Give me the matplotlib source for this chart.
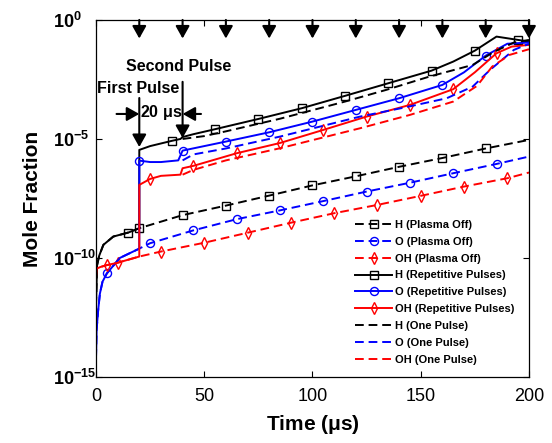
import numpy as np
import matplotlib
matplotlib.use('Agg')
import matplotlib.pyplot as plt

plt.rcParams['font.family'] = ['Liberation Sans', 'DejaVu Sans']
plt.rcParams['mathtext.fontset'] = 'custom'
plt.rcParams['mathtext.rm'] = 'Liberation Sans'
plt.rcParams['mathtext.it'] = 'Liberation Sans:italic'
plt.rcParams['mathtext.bf'] = 'Liberation Sans:bold'

# ---- data (time in microseconds, log10 of mole fraction) ----
h_off_t = [0, 0.5, 1.5, 3.4, 8, 15, 20, 40, 60, 80, 100, 120, 140, 160, 180, 200]
h_off_log = [-12.0, -10.3, -9.9, -9.45, -9.1, -8.93, -8.75, -8.2, -7.8, -7.38,
             -6.95, -6.57, -6.17, -5.8, -5.4, -5.04]
h_off_marks = [20, 40, 60, 80, 100, 120, 140, 160, 180]

o_off_t = [0, 0.3, 1, 1.8, 3, 5, 11, 19, 25, 45, 65, 85, 105, 125, 145, 165, 185, 200]
o_off_log = [-14.2, -13.0, -12.2, -11.5, -11.0, -10.65, -10.0, -9.65, -9.38, -8.84,
             -8.37, -8.0, -7.61, -7.21, -6.84, -6.44, -6.05, -5.74]
o_off_marks = [5, 25, 45, 65, 85, 105, 125, 145, 165, 185]

oh_off_t = [0, 0.3, 2, 5, 10, 20, 30, 50, 70, 90, 110, 130, 150, 170, 190, 200]
oh_off_log = [-10.8, -10.45, -10.38, -10.3, -10.2, -9.94, -9.73, -9.36, -8.94, -8.52,
              -8.12, -7.77, -7.39, -7.0, -6.65, -6.41]
oh_off_marks = [10, 30, 50, 70, 90, 110, 130, 150, 170, 190]

h_rep_t = [0, 0.5, 1.5, 3.4, 8, 15, 20, 20, 25, 35, 39, 40, 45, 55, 75, 95, 115,
           135, 155, 165, 175, 185, 195, 200]
h_rep_log = [-12.0, -10.3, -9.9, -9.45, -9.1, -8.93, -8.75, -5.46, -5.3, -5.08, -5.0,
             -4.92, -4.8, -4.59, -4.16, -3.71, -3.19, -2.66, -2.13, -1.75, -1.29,
             -0.70, -0.84, -0.91]
h_rep_marks = [15, 35, 55, 75, 95, 115, 135, 155, 175, 195]

o_rep_t = [0, 0.3, 1, 1.8, 3, 5, 11, 19, 20, 20, 25, 30, 38, 40, 60, 80, 100, 120,
           140, 160, 170, 180, 190, 200]
o_rep_log = [-14.2, -13.0, -12.2, -11.5, -11.0, -10.65, -10.0, -9.65, -9.62, -5.91,
             -5.97, -5.97, -5.9, -5.49, -5.11, -4.72, -4.27, -3.78, -3.29, -2.73,
             -2.2, -1.5, -1.0, -0.95]
o_rep_marks = [20, 40, 60, 80, 100, 120, 140, 160, 180]

oh_rep_t = [0, 0.3, 2, 5, 10, 20, 20, 25, 30, 39, 40, 45, 65, 85, 105, 125, 145, 165,
            175, 185, 192, 200]
oh_rep_log = [-10.8, -10.45, -10.38, -10.3, -10.2, -9.94, -6.93, -6.68, -6.55, -6.5,
              -6.23, -6.13, -5.6, -5.17, -4.62, -4.06, -3.57, -2.91, -2.2, -1.4,
              -1.12, -1.05]
oh_rep_marks = [5, 25, 45, 65, 85, 105, 125, 145, 165, 185]

h_one_t = [40, 50, 60, 85, 115, 134, 154, 174, 184, 193, 200]
h_one_log = [-5.0, -4.88, -4.68, -4.15, -3.43, -2.94, -2.38, -1.89, -1.33, -0.95, -0.84]

o_one_t = [40, 45, 60, 85, 122, 143, 162, 174, 182, 193, 200]
o_one_log = [-5.9, -5.65, -5.4, -4.9, -4.06, -3.67, -3.29, -2.8, -2.1, -1.26, -1.0]

oh_one_t = [40, 45, 60, 85, 122, 145, 165, 176, 183, 191, 200]
oh_one_log = [-6.5, -6.3, -5.9, -5.39, -4.55, -3.99, -3.43, -2.77, -1.96, -1.47, -1.23]

pulse_times = [20, 40, 60, 80, 100, 120, 140, 160, 180, 200]

y_ticks = [1e-15, 1e-10, 1e-5, 1]
y_tick_labels = [r'$\mathbf{10^{-15}}$', r'$\mathbf{10^{-10}}$',
                 r'$\mathbf{10^{-5}}$', r'$\mathbf{10^{0}}$']


def mark_idx(t, marks):
    """index of the last sample at each marker time"""
    t = np.asarray(t)
    return [int(np.searchsorted(t, m, side='right') - 1) for m in marks]


fig = plt.figure(figsize=(5.52, 4.43), dpi=100)
ax = fig.add_axes([0.1739, 0.149, 0.7844, 0.806])

dash = (0, (4.5, 2.5))
mk = dict(mfc='none', ms=5.8, mew=1.0)
lw = 1.4

ax.plot(h_off_t, 10 ** np.array(h_off_log), color='k', ls=dash, lw=lw, marker='s',
        markevery=mark_idx(h_off_t, h_off_marks), label='H (Plasma Off)', **mk)
ax.plot(o_off_t, 10 ** np.array(o_off_log), color='b', ls=dash, lw=lw, marker='o',
        markevery=mark_idx(o_off_t, o_off_marks), label='O (Plasma Off)', **mk)
ax.plot(oh_off_t, 10 ** np.array(oh_off_log), color='r', ls=dash, lw=lw, marker='d',
        markevery=mark_idx(oh_off_t, oh_off_marks), label='OH (Plasma Off)', **mk)
ax.plot(h_rep_t, 10 ** np.array(h_rep_log), color='k', ls='-', lw=lw, marker='s',
        markevery=mark_idx(h_rep_t, h_rep_marks), label='H (Repetitive Pulses)', **mk)
ax.plot(o_rep_t, 10 ** np.array(o_rep_log), color='b', ls='-', lw=lw, marker='o',
        markevery=mark_idx(o_rep_t, o_rep_marks), label='O (Repetitive Pulses)', **mk)
ax.plot(oh_rep_t, 10 ** np.array(oh_rep_log), color='r', ls='-', lw=lw, marker='d',
        markevery=mark_idx(oh_rep_t, oh_rep_marks), label='OH (Repetitive Pulses)', **mk)
ax.plot(h_one_t, 10 ** np.array(h_one_log), color='k', ls=dash, lw=lw, label='H (One Pulse)')
ax.plot(o_one_t, 10 ** np.array(o_one_log), color='b', ls=dash, lw=lw, label='O (One Pulse)')
ax.plot(oh_one_t, 10 ** np.array(oh_one_log), color='r', ls=dash, lw=lw, label='OH (One Pulse)')

ax.set_yscale('log')
ax.set_xlim(0, 200)
ax.set_ylim(1e-15, 1)
ax.set_xticks([0, 50, 100, 150, 200])
ax.set_yticks(y_ticks)
ax.set_yticklabels(y_tick_labels, ha='left')
ax.minorticks_off()
ax.tick_params(direction='in', length=4, width=0.8, top=True, right=True, labelsize=13)
ax.tick_params(axis='x', pad=8)
ax.tick_params(axis='y', pad=31)
for s in ax.spines.values():
    s.set_linewidth(0.9)

ax.set_xlabel(r'Time ($\mathbf{\mu}$s)', fontsize=15, fontweight='bold', labelpad=6)
ax.set_ylabel('Mole Fraction', fontsize=15, fontweight='bold', labelpad=8)

# pulse arrows along the top
aprops = dict(arrowstyle='-|>,head_length=0.75,head_width=0.42', color='k', lw=1.5,
              shrinkA=0, shrinkB=0, mutation_scale=10)
for p in pulse_times:
    ax.annotate('', xy=(p, 10 ** -0.78), xytext=(p, 1), arrowprops=aprops)

# first / second pulse annotations
ax.annotate('', xy=(20, 10 ** -5.34), xytext=(20, 10 ** -3.28), arrowprops=aprops)
ax.annotate('', xy=(40, 10 ** -4.96), xytext=(40, 10 ** -2.6), arrowprops=aprops)
ax.annotate('', xy=(20, 10 ** -3.95), xytext=(9.5, 10 ** -3.95), arrowprops=aprops)
ax.annotate('', xy=(40, 10 ** -3.95), xytext=(48.5, 10 ** -3.95), arrowprops=aprops)
ax.text(38.3, 10 ** -1.97, 'Second Pulse', ha='center', va='center', fontsize=11.5,
        fontweight='bold')
ax.text(19.6, 10 ** -2.9, 'First Pulse', ha='center', va='center', fontsize=11.5,
        fontweight='bold')
ax.text(30, 10 ** -3.9, r'20 $\mathbf{\mu}$s', ha='center', va='center', fontsize=11.5,
        fontweight='bold')

leg = ax.legend(loc='lower right', bbox_to_anchor=(0.985, 0.012), frameon=False,
                prop=dict(size=8, weight='bold'), handlelength=3.3, handletextpad=0.3,
                labelspacing=0.62, borderpad=0.2)

fig.savefig('out.png', dpi=100)
